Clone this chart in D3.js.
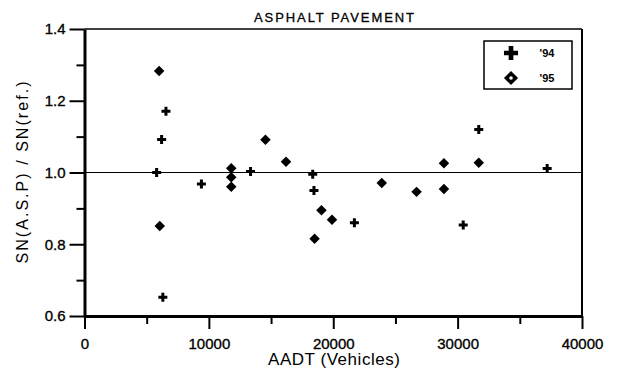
<!DOCTYPE html>
<html>
<head>
<meta charset="utf-8">
<script src="https://cdn.jsdelivr.net/npm/d3@7"></script>
<style>
  body { margin: 0; background: #fff; }
  svg text { font-family: "Liberation Sans", Arial, sans-serif; fill: #000; }
</style>
</head>
<body>
<div id="chart"></div>
<script>
// '94 survey
var aadt94 = [5800, 6200, 6550, 6300, 9400, 13350, 18350, 18450, 21700, 30450, 31700, 37200];
var ratio94 = [1.000, 1.092, 1.171, 0.652, 0.968, 1.003, 0.995, 0.950, 0.860, 0.854, 1.120, 1.011];
// '95 survey
var aadt95 = [6000, 6050, 11800, 11800, 11800, 14550, 16200, 18500, 19050, 19900, 23900, 26700, 28900, 28900, 31700];
var ratio95 = [1.283, 0.851, 1.012, 0.987, 0.960, 1.091, 1.030, 0.815, 0.895, 0.868, 0.971, 0.946, 1.026, 0.954, 1.027];

var xTicks = [0, 10000, 20000, 30000, 40000];
var xMinor = [5000, 15000, 25000, 35000];
var yTicks = [0.6, 0.8, 1.0, 1.2, 1.4];
var yMinor = [0.7, 0.9, 1.1, 1.3];
var seriesNames = ["'94", "'95"];

var width = 618, height = 371;
var margin = {top: 29, right: 36, bottom: 55, left: 84.5};

var svg = d3.select('#chart').append('svg')
  .attr('width', width)
  .attr('height', height);

var x = d3.scaleLinear().domain([0, 40000]).range([margin.left, width - margin.right]);
var y = d3.scaleLinear().domain([0.6, 1.4]).range([height - margin.bottom, margin.top]);

// frame top / right
svg.append('line')
  .attr('x1', x(0)).attr('x2', x(40000))
  .attr('y1', y(1.4)).attr('y2', y(1.4))
  .attr('stroke', '#000').attr('stroke-width', 1.5);
svg.append('line')
  .attr('x1', x(40000)).attr('x2', x(40000))
  .attr('y1', y(1.4)).attr('y2', y(0.6))
  .attr('stroke', '#000').attr('stroke-width', 2);

// reference line at 1.0
svg.append('line')
  .attr('x1', x(0)).attr('x2', x(40000))
  .attr('y1', y(1.0)).attr('y2', y(1.0))
  .attr('stroke', '#000').attr('stroke-width', 1.2);

// minor ticks
svg.append('g')
  .attr('transform', 'translate(0,' + y(0.6) + ')')
  .call(d3.axisBottom(x).tickValues(xMinor).tickSize(8).tickFormat(''))
  .call(function(g) {
    g.select('.domain').remove();
    g.selectAll('line').attr('stroke', '#000').attr('stroke-width', 2);
  });
svg.append('g')
  .attr('transform', 'translate(' + x(0) + ',0)')
  .call(d3.axisLeft(y).tickValues(yMinor).tickSize(8).tickFormat(''))
  .call(function(g) {
    g.select('.domain').remove();
    g.selectAll('line').attr('stroke', '#000').attr('stroke-width', 2);
  });

// x axis
svg.append('g')
  .attr('transform', 'translate(0,' + y(0.6) + ')')
  .call(d3.axisBottom(x).tickValues(xTicks).tickSize(13).tickSizeOuter(0).tickPadding(9)
    .tickFormat(d3.format('d')))
  .call(function(g) {
    g.select('.domain').attr('stroke', '#000').attr('stroke-width', 3);
    g.selectAll('line').attr('stroke', '#000').attr('stroke-width', 2);
    g.selectAll('text').attr('font-size', 15).attr('stroke', '#000').attr('stroke-width', 0.35);
  });

// y axis
svg.append('g')
  .attr('transform', 'translate(' + x(0) + ',0)')
  .call(d3.axisLeft(y).tickValues(yTicks).tickSize(15).tickSizeOuter(0).tickPadding(4)
    .tickFormat(d3.format('.1f')))
  .call(function(g) {
    g.select('.domain').attr('stroke', '#000').attr('stroke-width', 3);
    g.selectAll('line').attr('stroke', '#000').attr('stroke-width', 2);
    g.selectAll('text').attr('font-size', 15).attr('stroke', '#000').attr('stroke-width', 0.35);
  });

// title and axis labels
svg.append('text')
  .attr('x', 334).attr('y', 22)
  .attr('text-anchor', 'middle')
  .attr('font-size', 13)
  .attr('stroke', '#000').attr('stroke-width', 0.3)
  .attr('textLength', 160)
  .text('ASPHALT PAVEMENT');

svg.append('text')
  .attr('x', 334).attr('y', 365)
  .attr('text-anchor', 'middle')
  .attr('font-size', 17)
  .attr('textLength', 132)
  .text('AADT (Vehicles)');

svg.append('text')
  .attr('transform', 'translate(28,' + y(1.0) + ') rotate(-90)')
  .attr('text-anchor', 'middle')
  .attr('font-size', 16)
  .attr('textLength', 182)
  .text('SN(A.S.P) / SN(ref.)');

// markers
var cross = d3.symbol().type(d3.symbolCross);
var square = d3.symbol().type(d3.symbolSquare);

svg.append('g').selectAll('path')
  .data(d3.zip(aadt94, ratio94))
  .enter().append('path')
  .attr('d', cross.size(45)())
  .attr('fill', '#000')
  .attr('transform', function(d) { return 'translate(' + x(d[0]) + ',' + y(d[1]) + ')'; });

svg.append('g').selectAll('path')
  .data(d3.zip(aadt95, ratio95))
  .enter().append('path')
  .attr('d', square.size(55)())
  .attr('fill', '#000')
  .attr('transform', function(d) { return 'translate(' + x(d[0]) + ',' + y(d[1]) + ') rotate(45)'; });

// legend
var legend = svg.append('g').attr('transform', 'translate(484,41)');
legend.append('rect')
  .attr('width', 88).attr('height', 48)
  .attr('fill', '#fff').attr('stroke', '#000').attr('stroke-width', 1.5);
legend.append('path')
  .attr('d', cross.size(110)())
  .attr('fill', '#000')
  .attr('transform', 'translate(27,12)');
legend.append('path')
  .attr('d', square.size(100)())
  .attr('fill', '#000')
  .attr('transform', 'translate(27,37) rotate(45)');
legend.append('circle')
  .attr('cx', 27).attr('cy', 37).attr('r', 1.8).attr('fill', '#fff');
legend.selectAll('.lg')
  .data(seriesNames)
  .enter().append('text')
  .attr('class', 'lg')
  .attr('x', 63).attr('y', function(d, i) { return 16 + i * 25; })
  .attr('text-anchor', 'middle')
  .attr('font-size', 11)
  .attr('font-weight', 'bold')
  .text(function(d) { return d; });
</script>
</body>
</html>
